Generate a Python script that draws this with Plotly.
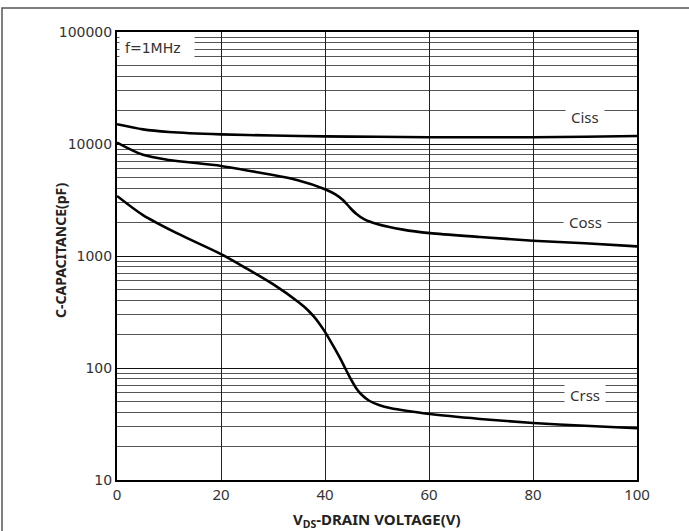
import math
import plotly.graph_objects as go

# Data
vds_ciss = [0, 5, 10, 20, 30, 40, 50, 60, 70, 80, 90, 100]
ciss = [15000, 13500, 12800, 12200, 11900, 11700, 11600, 11500, 11500, 11500, 11600, 11800]

vds_coss = [0, 5, 10, 20, 27, 34.6, 40, 42, 43.5, 44.8, 46, 47.5, 50, 55, 60.2, 69.8, 80, 90, 100]
coss = [10300, 8000, 7200, 6370, 5600, 4780, 3950, 3550, 3150, 2700, 2380, 2130, 1930, 1720, 1600,
        1480, 1370, 1300, 1220]

vds_crss = [0, 5, 11.5, 20, 25, 30, 35, 36, 37, 38, 39, 40, 41.5, 43, 44, 45, 46, 47, 48.5, 50.5,
            52.5, 60.2, 69.8, 80, 90, 100]
crss = [3440, 2320, 1600, 1040, 770, 560, 385, 352, 318, 283, 246, 210, 160, 120, 97, 79, 66, 58,
        51, 46.5, 43.9, 38.8, 35.1, 32.3, 30.5, 29.0]

x_ticks = [0, 20, 40, 60, 80, 100]
y_ticks = [10, 100, 1000, 10000, 100000]
y_tick_labels = ["10", "100", "1000", "10000", "100000"]
minor_vals = [m * 10 ** d for d in range(1, 5) for m in range(2, 10)]

fig = go.Figure()
for xs, ys in [(vds_ciss, ciss), (vds_coss, coss), (vds_crss, crss)]:
    fig.add_trace(go.Scatter(x=xs, y=ys, mode="lines",
                             line=dict(color="black", width=2.6, shape="spline", smoothing=0.8),
                             showlegend=False, hoverinfo="skip"))

fig.update_layout(
    width=689, height=531,
    margin=dict(l=117, r=52, t=32, b=51),
    paper_bgcolor="white", plot_bgcolor="white",
    font=dict(family="DejaVu Sans", size=14, color="#222"),
)
fig.update_xaxes(
    range=[0, 100], tickvals=x_ticks, ticks="", showgrid=True, gridcolor="#222", gridwidth=1,
    zeroline=False, showline=True, linecolor="black", linewidth=2, mirror=True, automargin=False,
    tickfont=dict(family="Noto Sans", size=15, color="#333"),
)
fig.update_yaxes(
    type="log", range=[1, 5], tickvals=y_ticks, ticktext=y_tick_labels, ticks="",
    showgrid=True, gridcolor="#111", gridwidth=1.2, automargin=False,
    minor=dict(tickvals=minor_vals, showgrid=True, gridcolor="#555", gridwidth=1, ticks=""),
    zeroline=False, showline=True, linecolor="black", linewidth=2, mirror=True,
    tickfont=dict(family="DejaVu Sans", size=14, color="#333"),
)

# axis titles placed like the reference
fig.add_annotation(x=(60 - 117) / 520, y=(480 - 250) / 448, xref="paper", yref="paper",
                   xanchor="center", yanchor="middle",
                   text="<b>C-CAPACITANCE(pF)</b>", textangle=-90, showarrow=False,
                   font=dict(family="Noto Sans", size=14, color="#222"))
fig.add_annotation(x=0.5, y=(480 - 520) / 448, xref="paper", yref="paper",
                   xanchor="center", yanchor="middle",
                   text="<b>V<sub>DS</sub>-DRAIN VOLTAGE(V)</b>", showarrow=False,
                   font=dict(family="Noto Sans", size=15, color="#222"))

# Curve labels on white boxes
labels = [("Ciss", 17400), ("Coss", 2000), ("Crss", 57)]
for txt, yv in labels:
    fig.add_annotation(x=90, y=math.log10(yv), xref="x", yref="y", text=txt,
                       xanchor="center", yanchor="middle",
                       showarrow=False, bgcolor="white", borderpad=5,
                       font=dict(family="Noto Sans", size=15, color="#333"))

fig.add_annotation(x=0, y=1, xref="paper", yref="paper", xanchor="left", yanchor="top",
                   xshift=2, yshift=-2, text="f=1MHz", showarrow=False, bgcolor="white",
                   borderpad=5, width=64, align="left",
                   font=dict(family="DejaVu Sans", size=14, color="#333"))

# outer frame
fig.add_shape(type="rect", xref="paper", yref="paper",
              x0=(2 - 117) / 520, x1=(695 - 117) / 520,
              y0=(480 - 540) / 448, y1=(480 - 8) / 448,
              line=dict(color="#555", width=1.5), layer="below")

fig.write_html("out.html")
